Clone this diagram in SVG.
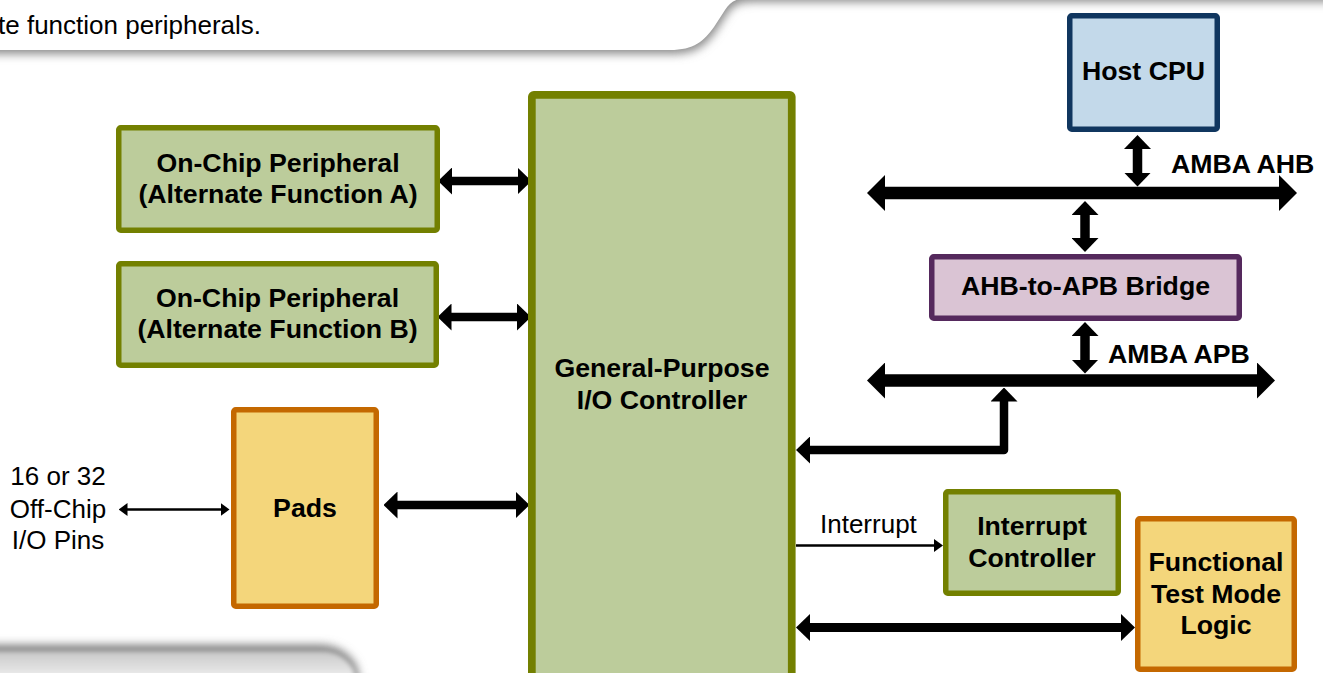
<svg xmlns="http://www.w3.org/2000/svg" width="1323" height="673" viewBox="0 0 1323 673">
  <defs>
    <style>
      .lbl { font-family: "Liberation Sans", Arial, sans-serif; font-size: 26px; fill: #000; }
      .b { font-weight: bold; font-size: 26.7px; }
      .mid { text-anchor: middle; }
      .green { fill: #bccc9b; stroke: #738000; stroke-width: 5.5; }
      .gold { fill: #f4d67b; stroke: #c46800; stroke-width: 5.5; }
      .blue { fill: #c3d9ea; stroke: #10365f; stroke-width: 5.5; }
      .violet { fill: #dac4d4; stroke: #55295d; stroke-width: 5.5; }
      .thick { stroke: #000; stroke-width: 8.5; fill: none; marker-start: url(#head); marker-end: url(#head); }
      .bus { stroke: #000; stroke-width: 12.5; fill: none; marker-start: url(#busHead); marker-end: url(#busHead); }
      .thin { stroke: #000; stroke-width: 2.5; fill: none; }
    </style>
    <marker id="head" viewBox="0 -13.5 14 27" refX="2" refY="0" markerUnits="userSpaceOnUse" markerWidth="14" markerHeight="27" orient="auto-start-reverse">
      <path d="M0,-13.5 L14,0 L0,13.5 Z" fill="#000"/>
    </marker>
    <marker id="busHead" viewBox="0 -18 18 36" refX="2" refY="0" markerUnits="userSpaceOnUse" markerWidth="18" markerHeight="36" orient="auto-start-reverse">
      <path d="M0,-18 L18,0 L0,18 Z" fill="#000"/>
    </marker>
    <marker id="thinHead" viewBox="0 -6.5 9 13" refX="1" refY="0" markerUnits="userSpaceOnUse" markerWidth="9" markerHeight="13" orient="auto-start-reverse">
      <path d="M0,-6.5 L9,0 L0,6.5 Z" fill="#000"/>
    </marker>
    <filter id="soft" x="-10%" y="-50%" width="120%" height="200%">
      <feGaussianBlur stdDeviation="5"/>
    </filter>
    <filter id="softer" x="-10%" y="-50%" width="120%" height="200%">
      <feGaussianBlur stdDeviation="2.5"/>
    </filter>
    <linearGradient id="lowerPanel" x1="0" y1="0" x2="0" y2="1">
      <stop offset="0" stop-color="#c8c8c8"/>
      <stop offset="1" stop-color="#ffffff"/>
    </linearGradient>
  </defs>

  <rect width="1323" height="673" fill="#fff"/>

  <!-- upper caption panel with its drop shadow -->
  <g id="caption-panel">
    <path d="M-20,-20 L-20,54 L672,54 C696,54 706,45 716,31 L727,14 C733,5 739,2 752,2 L1340,2 L1340,-20 Z" fill="#8a8a8a" filter="url(#soft)"/>
    <path d="M-20,-20 L-20,50 L670,50 C694,50 704,41 714,27 L725,10 C731,1 737,-2 750,-2 L1340,-2 L1340,-20 Z" fill="#fff"/>
    <text class="lbl" x="-2" y="34">te function peripherals.</text>
  </g>

  <!-- lower panel edge -->
  <g id="lower-panel">
    <path d="M-20,690 L-20,645 L318,645 C338,645 348,653 356,665 L362,690 Z" fill="#7a7a7a" filter="url(#soft)"/>
    <path d="M-20,690 L-20,651 L322,651 C338,651 348,659 354,670 L358,690 Z" fill="url(#lowerPanel)" filter="url(#softer)"/>
  </g>

  <!-- connectors -->
  <g id="connectors">
    <line class="thick" x1="450" y1="181" x2="519.5" y2="181"/>
    <line class="thick" x1="449.5" y1="317" x2="519" y2="317"/>
    <line class="thick" x1="395.5" y1="505" x2="517.5" y2="505"/>
    <line class="thin" x1="126.5" y1="509.5" x2="221.5" y2="509.5" marker-start="url(#thinHead)" marker-end="url(#thinHead)"/>
    <line class="thick" x1="1137.5" y1="147" x2="1137.5" y2="174.5" style="stroke-width:9.5"/>
    <line class="bus" x1="883" y1="193" x2="1281" y2="193"/>
    <line class="thick" x1="1085" y1="213" x2="1085" y2="240" style="stroke-width:9.5"/>
    <line class="thick" x1="1085" y1="334" x2="1085" y2="361.5" style="stroke-width:9.5"/>
    <line class="bus" x1="883" y1="380.5" x2="1259" y2="380.5"/>
    <path class="thick" d="M1004,399.5 L1004,450 L808,450" stroke-linejoin="round"/>
    <line class="thin" x1="796" y1="545.5" x2="935" y2="545.5" marker-end="url(#thinHead)"/>
    <text class="lbl" x="820" y="533">Interrupt</text>
    <line class="thick" x1="808" y1="627.5" x2="1123" y2="627.5" style="stroke-width:9"/>
    <text class="lbl b" x="1171" y="173">AMBA AHB</text>
    <text class="lbl b" x="1108" y="363">AMBA APB</text>
  </g>

  <g id="off-chip-pins">
    <text class="lbl mid" x="58" y="485">16 or 32</text>
    <text class="lbl mid" x="58" y="518">Off-Chip</text>
    <text class="lbl mid" x="58" y="549">I/O Pins</text>
  </g>

  <g id="peripheral-a">
    <rect class="green" x="118.75" y="127.75" width="318.5" height="102.5" rx="2"/>
    <text class="lbl b mid" x="278" y="172">On-Chip Peripheral</text>
    <text class="lbl b mid" x="278" y="203">(Alternate Function A)</text>
  </g>

  <g id="peripheral-b">
    <rect class="green" x="118.75" y="263.75" width="317.5" height="101.5" rx="2"/>
    <text class="lbl b mid" x="277.5" y="307">On-Chip Peripheral</text>
    <text class="lbl b mid" x="277.5" y="338">(Alternate Function B)</text>
  </g>

  <g id="pads">
    <rect class="gold" x="233.75" y="409.75" width="142.5" height="196.5" rx="2"/>
    <text class="lbl b mid" x="305" y="517">Pads</text>
  </g>

  <g id="gpio-controller">
    <rect class="green" x="531.85" y="94.85" width="259.9" height="620" rx="2" style="stroke-width:7.7"/>
    <text class="lbl b mid" x="662" y="377">General-Purpose</text>
    <text class="lbl b mid" x="662" y="409">I/O Controller</text>
  </g>

  <g id="host-cpu">
    <rect class="blue" x="1069.75" y="15.75" width="147.5" height="113.5" rx="2"/>
    <text class="lbl b mid" x="1143.5" y="80">Host CPU</text>
  </g>

  <g id="ahb-apb-bridge">
    <rect class="violet" x="931.75" y="256.75" width="307.5" height="61.5" rx="2"/>
    <text class="lbl b mid" x="1085.5" y="295">AHB-to-APB Bridge</text>
  </g>

  <g id="interrupt-controller">
    <rect class="green" x="945.75" y="491.75" width="172.5" height="101.5" rx="2"/>
    <text class="lbl b mid" x="1032" y="535">Interrupt</text>
    <text class="lbl b mid" x="1032" y="567">Controller</text>
  </g>

  <g id="functional-test-mode">
    <rect class="gold" x="1137.75" y="518.75" width="156.5" height="150.5" rx="2"/>
    <text class="lbl b mid" x="1216" y="571">Functional</text>
    <text class="lbl b mid" x="1216" y="602.5">Test Mode</text>
    <text class="lbl b mid" x="1216" y="634">Logic</text>
  </g>
</svg>
